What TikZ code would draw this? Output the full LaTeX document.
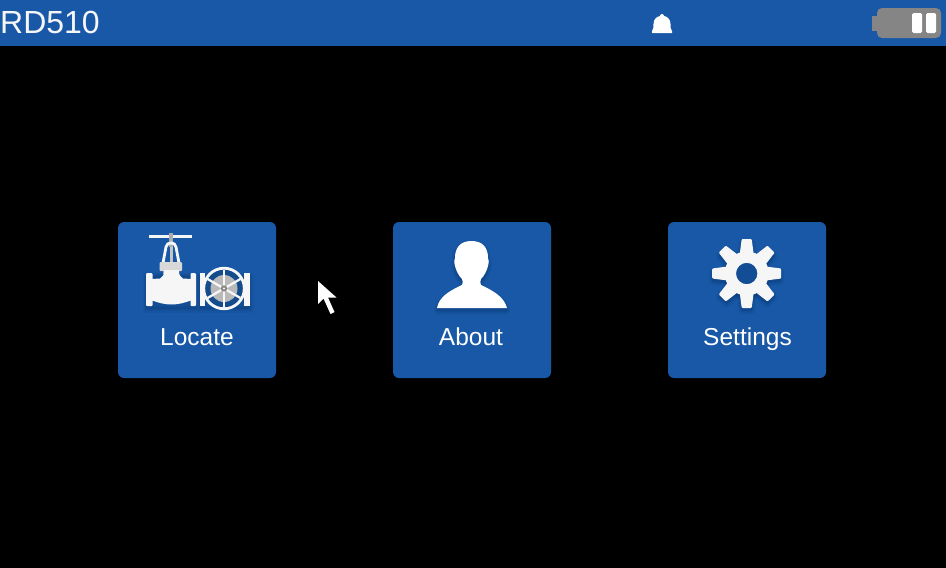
\documentclass[tikz,border=0pt]{standalone}
\usepackage{fontspec}
\setmainfont{Liberation Sans}
\definecolor{uiblue}{HTML}{1858A6}
\definecolor{shadowblue}{HTML}{0B3C78}
\definecolor{iconwhite}{HTML}{F6F6F6}
\definecolor{battgray}{HTML}{858585}
\tikzset{
  x=1pt,y=-1pt,
  card/.style={fill=uiblue,rounded corners=6pt,draw=none,minimum width=158pt,minimum height=156pt,inner sep=0pt},
  cardlabel/.style={text=white,font=\fontsize{24.5}{28}\selectfont,inner sep=0pt,anchor=base},
  icon/.style={fill=iconwhite,draw=none},
  softshadow/.style={fill=shadowblue,draw=shadowblue,opacity=0.13,line join=round},
}
\newcommand{\personshape}{
  (437,308) .. controls (439,297) and (449,291) .. (462,285)
  .. controls (463,283) and (463,281) .. (462,279)
  .. controls (458,275) and (456,270) .. (455,266)
  .. controls (454,262) and (454,260) .. (455,258)
  .. controls (455,248) and (460,241) .. (471.5,241)
  .. controls (483,241) and (488,248) .. (488,258)
  .. controls (489,260) and (489,262) .. (488,266)
  .. controls (487,270) and (485,275) .. (481,279)
  .. controls (480,281) and (480,283) .. (481,285)
  .. controls (494,291) and (504,297) .. (507,308) -- cycle}
\newcommand{\valvebody}{
  (152,279) -- (160,278.5) .. controls (163,277) and (164,275) .. (164,270)
  -- (179,270) .. controls (179,275) and (180,277) .. (183,278.5)
  -- (191,279) -- (191,300.5)
  .. controls (184,303) and (178,304.5) .. (171.5,304.5)
  .. controls (165,304.5) and (159,303) .. (152,300.5) -- cycle}
\begin{document}
\begin{tikzpicture}
\useasboundingbox (0,0) rectangle (946,568);
\fill[black] (0,0) rectangle (946,568);
\fill[uiblue] (0,0) rectangle (946,45.5);
\node[text=iconwhite,font=\fontsize{32}{36}\selectfont,inner sep=0pt,anchor=base west] (title) at (0,33.5) {RD510};

% bell
\fill[white] (652,33) -- (652,31) .. controls (653.5,29.5) and (653.5,27) .. (653.5,24)
  .. controls (653.5,19) and (657,16.5) .. (660,16) .. controls (660,15) and (661,14) .. (662,14)
  .. controls (663,14) and (664,15) .. (664,16) .. controls (667,16.5) and (670.5,19) .. (670.5,24)
  .. controls (670.5,27) and (670.5,29.5) .. (672,31) -- (672,33) -- cycle;

% battery
\fill[battgray] (872,16) rectangle (879,31);
\fill[battgray,rounded corners=5pt] (877,8) rectangle (941,38);
\fill[white,rounded corners=1.5pt] (912,13) rectangle (922,33);
\fill[white,rounded corners=1.5pt] (926,13) rectangle (936,33);

% cards
\node[card] (locate) at (197,300) {};
\node[card] (about) at (472,300) {};
\node[card] (settings) at (747,300) {};
\node[cardlabel] (locatetxt) at (197,345) {Locate};
\node[cardlabel] (abouttxt) at (471,345) {About};
\node[cardlabel] (settingstxt) at (747.5,345) {Settings};

% valve shadow
\begin{scope}[shift={(0,3)}]
  \foreach \w in {7,4,1.5}{
    \filldraw[softshadow,line width=\w pt] (146,273) rectangle (196,306);
    \filldraw[softshadow,line width=\w pt] (200,273) rectangle (250,306);
  }
\end{scope}
% globe valve
\fill[iconwhite] (149,235) rectangle (192,238);
\fill[black!30!iconwhite] (169,232.5) rectangle (173,247);
\draw[iconwhite,line width=2.8pt,line join=round] (163,263) -- (166,247) .. controls (166.5,241.5) and (175.5,241.5) .. (176,247) -- (179,263);
\fill[black!20!iconwhite] (169.5,247) rectangle (172.5,263);
\fill[black!12!iconwhite,rounded corners=1pt] (159.5,262) rectangle (182,271);
\fill[black!35!iconwhite] (163,271) rectangle (179,274);
\fill[icon] \valvebody;
\fill[iconwhite,rounded corners=1pt] (146,273) rectangle (152.5,306);
\fill[iconwhite,rounded corners=1pt] (190.5,273) rectangle (196,306);

% gate valve
\fill[iconwhite] (200,273) rectangle (205,306);
\fill[iconwhite] (244,273) rectangle (250,306);
\fill[uiblue!85!black] (224,288.5) circle (20);
\fill[black!25!iconwhite] (224,288.5) circle (13.5);
\draw[iconwhite,line width=2.8pt] (224,288.5) circle (20.3);
\foreach \a in {30,90,150,210,270,330}{
  \draw[iconwhite,line width=2.3pt] (224,288.5) -- ++(\a:19);
}
\fill[black!45!iconwhite] (224,288.5) circle (3.2);
\fill[iconwhite] (224,288.5) circle (1.2);

% person
\begin{scope}[shift={(0,3)}]
  \foreach \w in {7,4,1.5}{ \filldraw[softshadow,line width=\w pt] \personshape; }
\end{scope}
\fill[white] \personshape;

% gear
\begin{scope}[shift={(746.7,273.5)}]
  \begin{scope}[shift={(0,3)}]
    \foreach \w in {7,4,1.5}{
      \filldraw[softshadow,line width=\w pt] (0,0) circle (21);
      \foreach \a in {0,45,...,315}{
        \filldraw[softshadow,line width=\w pt,rotate=\a] (-6.5,-20) -- (-5,-34) -- (5,-34) -- (6.5,-20) -- cycle;
      }
    }
  \end{scope}
  \foreach \a in {0,45,...,315}{
    \fill[iconwhite,rotate=\a,rounded corners=1pt] (-7,-19) -- (-5,-34.5) -- (5,-34.5) -- (7,-19) -- cycle;
  }
  \fill[iconwhite,even odd rule] (0,0) circle (22) (0,0) circle (10.7);
\end{scope}

% cursor
\fill[white] (318,281) -- (318,304) -- (323.5,298.5) -- (330.5,314) -- (334.5,312) -- (328,297.5) -- (336.5,297.5) -- cycle;
\end{tikzpicture}
\end{document}
